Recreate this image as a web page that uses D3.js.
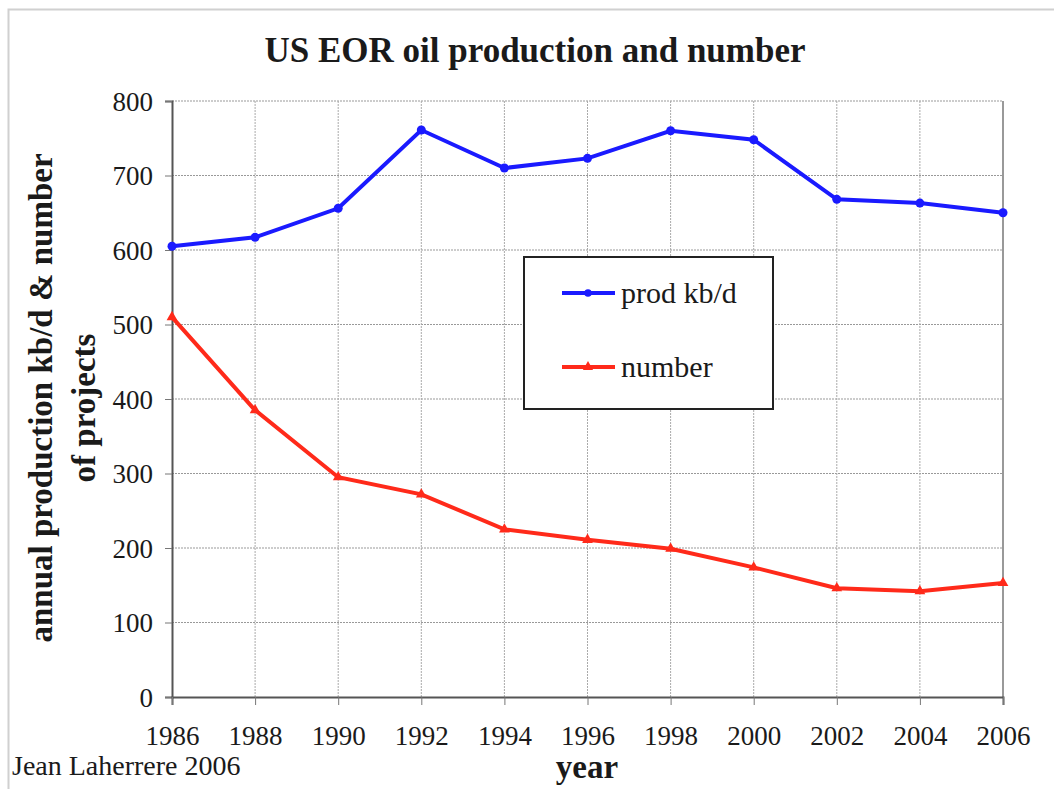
<!DOCTYPE html>
<html>
<head>
<meta charset="utf-8">
<script src="https://cdn.jsdelivr.net/npm/d3@7"></script>
<style>
  body { margin: 0; background: #fff; }
</style>
</head>
<body>
<svg id="plot" width="1054" height="789"></svg>
<script>
// values
const years = [1986, 1988, 1990, 1992, 1994, 1996, 1998, 2000, 2002, 2004, 2006];
const prod = [605, 617, 656, 761, 710, 723, 760, 748, 668, 663, 650];
const number = [510, 385, 295, 272, 225, 211, 199, 174, 146, 142, 153];
const yTicks = [0, 100, 200, 300, 400, 500, 600, 700, 800];

const SERIF = 'Liberation Serif';
const svg = d3.select('#plot');
const m = { left: 172, right: 1003, top: 101, bottom: 697 };

const x = d3.scaleLinear().domain([1986, 2006]).range([m.left, m.right]);
const y = d3.scaleLinear().domain([0, 800]).range([m.bottom, m.top]);

// helper: every text in the old Times look
const label = (sel, size, bold) => sel
  .style('font-family', SERIF)
  .attr('font-size', size)
  .attr('font-weight', bold ? 'bold' : 'normal')
  .attr('fill', '#1a1a1a');

// outer frame of the figure
svg.append('rect')
  .attr('x', 8.5).attr('y', 9.5).attr('width', 1100).attr('height', 900)
  .attr('fill', 'none').attr('stroke', '#d0d0d0').attr('stroke-width', 2);

// grid
svg.append('g').selectAll('line').data(yTicks.slice(1)).enter().append('line')
  .attr('x1', m.left).attr('x2', m.right)
  .attr('y1', d => y(d)).attr('y2', d => y(d))
  .attr('stroke', '#999').attr('stroke-dasharray', '2,1').attr('stroke-width', 1);
svg.append('g').selectAll('line').data(years.slice(1)).enter().append('line')
  .attr('x1', d => x(d)).attr('x2', d => x(d))
  .attr('y1', m.top).attr('y2', m.bottom)
  .attr('stroke', '#aaa').attr('stroke-dasharray', '2,1').attr('stroke-width', 1);
svg.append('line')
  .attr('x1', m.right).attr('x2', m.right).attr('y1', m.top).attr('y2', m.bottom)
  .attr('stroke', '#999').attr('stroke-width', 2);

// axes
const yAxis = svg.append('g')
  .attr('transform', `translate(${m.left},0)`)
  .call(d3.axisLeft(y).tickValues(yTicks).tickSize(7).tickPadding(12));
const xAxis = svg.append('g')
  .attr('transform', `translate(0,${m.bottom})`)
  .call(d3.axisBottom(x).tickValues(years).tickFormat(d3.format('d')).tickSize(8).tickPadding(21));
[yAxis, xAxis].forEach(a => {
  a.select('.domain').attr('stroke', '#555').attr('stroke-width', 2);
  a.selectAll('.tick line').attr('stroke', '#777');
});
label(yAxis.selectAll('text'), 27, false).attr('dy', '0.34em');
label(xAxis.selectAll('text'), 27, false).attr('dy', '0.71em');

// series
const line = d3.line().x((d, i) => x(years[i])).y(d => y(d));
svg.append('path').datum(prod).attr('d', line)
  .attr('fill', 'none').attr('stroke', '#1a1aff').attr('stroke-width', 4);
svg.append('path').datum(number).attr('d', line)
  .attr('fill', 'none').attr('stroke', '#ff2a1a').attr('stroke-width', 4);
svg.append('g').selectAll('circle').data(prod).enter().append('circle')
  .attr('cx', (d, i) => x(years[i])).attr('cy', d => y(d)).attr('r', 4.5)
  .attr('fill', '#1a1aff');
const tri = d3.symbol().type(d3.symbolTriangle).size(50);
svg.append('g').selectAll('path').data(number).enter().append('path')
  .attr('d', tri)
  .attr('transform', (d, i) => `translate(${x(years[i])},${y(d)})`)
  .attr('fill', '#ff2a1a');

// legend
const lg = svg.append('g');
lg.append('rect').attr('x', 524).attr('y', 257).attr('width', 249).attr('height', 152)
  .attr('fill', '#fff').attr('stroke', '#222').attr('stroke-width', 2);
const items = [
  { name: 'prod kb/d', color: '#1a1aff', sym: d3.symbolCircle },
  { name: 'number', color: '#ff2a1a', sym: d3.symbolTriangle }
];
items.forEach((it, i) => {
  const cy = 293 + i * 74;
  lg.append('line').attr('x1', 562).attr('x2', 615).attr('y1', cy).attr('y2', cy)
    .attr('stroke', it.color).attr('stroke-width', 4);
  lg.append('path').attr('d', d3.symbol().type(it.sym).size(45))
    .attr('transform', `translate(588,${cy})`).attr('fill', it.color);
  label(lg.append('text'), 30, false).attr('x', 621).attr('y', cy + 10).text(it.name);
});

// titles
label(svg.append('text'), 35, true).attr('x', 535).attr('y', 62)
  .attr('text-anchor', 'middle').text('US EOR oil production and number');
label(svg.append('text'), 33, true).attr('x', 587).attr('y', 778)
  .attr('text-anchor', 'middle').text('year');
label(svg.append('text'), 33, true).attr('transform', 'translate(52,398) rotate(-90)')
  .attr('text-anchor', 'middle').text('annual production kb/d & number');
label(svg.append('text'), 33, true).attr('transform', 'translate(95,408) rotate(-90)')
  .attr('text-anchor', 'middle').text('of projects');
label(svg.append('text'), 28, false).attr('x', 12).attr('y', 775)
  .text('Jean Laherrere 2006');
</script>
</body>
</html>
